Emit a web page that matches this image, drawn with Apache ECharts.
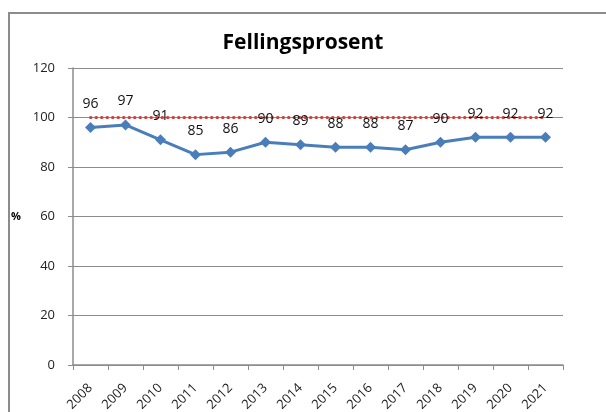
<!DOCTYPE html>
<html>
<head>
<meta charset="utf-8">
<script src="https://cdn.jsdelivr.net/npm/echarts@6/dist/echarts.min.js"></script>
<style>
  html, body { margin: 0; padding: 0; background: #fff; overflow: hidden; }
  /* ramme rundt diagrammet */
  .frame {
    position: absolute; left: 8px; top: 12px; width: 620px; height: 420px;
    border: 2px solid #8c8c8c; box-sizing: border-box;
  }
  #chart { position: absolute; left: 0; top: 0; width: 606px; height: 412px; }
</style>
</head>
<body>
<div class="frame"></div>
<div id="chart"></div>
<script>
// data
const years = ['2008', '2009', '2010', '2011', '2012', '2013', '2014', '2015', '2016', '2017', '2018', '2019', '2020', '2021']
const fellingsprosent = [96, 97, 91, 85, 86, 90, 89, 88, 88, 87, 90, 92, 92, 92]
const maal = [100, 100, 100, 100, 100, 100, 100, 100, 100, 100, 100, 100, 100, 100]

const font = 'Open Sans'
const chart = echarts.init(document.getElementById('chart'))

chart.setOption({
  animation: false,
  title: {
    text: 'Fellingsprosent',
    left: 'center',
    top: 28,
    textStyle: { fontFamily: font, fontSize: 21, fontWeight: 'bold', color: '#000' },
  },
  grid: { left: 73, right: 43, top: 68, bottom: 47, outerBoundsMode: 'none' },
  xAxis: {
    type: 'category',
    data: years,
    boundaryGap: true,
    axisLine: { lineStyle: { color: '#8c8c8c', width: 1.5 } },
    axisTick: { show: true, length: 5, lineStyle: { color: '#8c8c8c' } },
    axisLabel: { rotate: 45, fontFamily: font, fontSize: 13, color: '#222', margin: 21, interval: 0 },
  },
  yAxis: {
    type: 'value',
    min: 0,
    max: 120,
    interval: 20,
    name: '%',
    nameLocation: 'middle',
    nameRotate: 0,
    nameGap: 52,
    nameTextStyle: { fontFamily: font, fontSize: 11, fontWeight: 'bold', color: '#000' },
    axisLine: { show: true, lineStyle: { color: '#8c8c8c', width: 1.5 } },
    axisTick: { show: true, length: 5, lineStyle: { color: '#8c8c8c' } },
    splitLine: { lineStyle: { color: '#8c8c8c', width: 1 } },
    axisLabel: { fontFamily: font, fontSize: 13, color: '#222', margin: 18 },
  },
  series: [
    {
      name: 'Mål',
      type: 'line',
      data: maal,
      symbol: 'none',
      lineStyle: { color: '#d0403a', width: 3, type: [0.5, 5], cap: 'round' },
      z: 1,
    },
    {
      name: 'Fellingsprosent',
      type: 'line',
      data: fellingsprosent,
      symbol: 'diamond',
      symbolSize: 11,
      lineStyle: { color: '#4a7ebb', width: 3 },
      itemStyle: { color: '#4a7ebb' },
      label: {
        show: true,
        position: 'top',
        distance: 11,
        fontFamily: font,
        fontSize: 14,
        color: '#111',
      },
      z: 3,
    },
  ],
})
</script>
</body>
</html>
